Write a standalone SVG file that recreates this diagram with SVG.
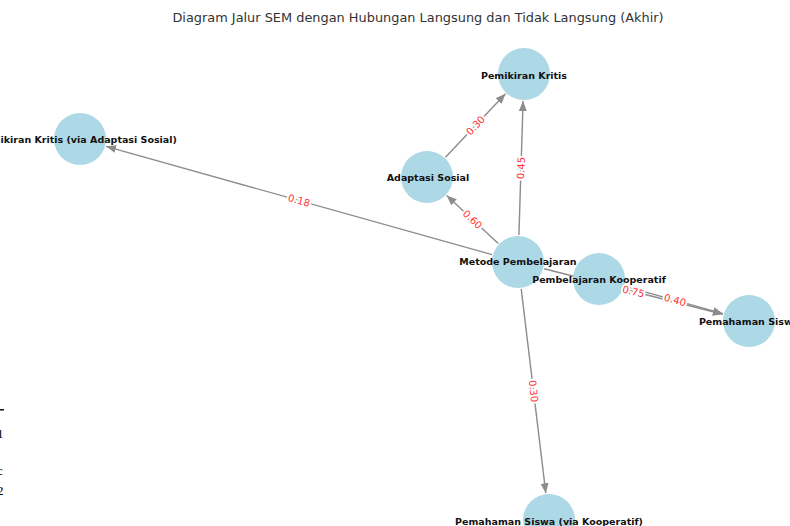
<svg xmlns="http://www.w3.org/2000/svg" width="790" height="526" viewBox="0 0 790 526">
<style>
.edge{stroke:#8c8c8c;stroke-width:1.4;fill:none;marker-end:url(#arr)}
.node{fill:#add8e6}
.nl{font-family:"DejaVu Sans",sans-serif;font-size:9.5px;font-weight:bold;fill:#111;text-anchor:middle;dominant-baseline:central}
.el{font-family:"DejaVu Sans",sans-serif;font-size:10px;fill:#ff3333;text-anchor:middle;dominant-baseline:central;stroke:#fff;stroke-width:4;paint-order:stroke;stroke-linejoin:round}
.title{font-family:"DejaVu Sans",sans-serif;font-size:12.9px;fill:#333;text-anchor:middle}
.art{font-family:"Liberation Serif",serif;font-size:13px;fill:#000}
</style>
<defs>
<marker id="arr" viewBox="0 0 10 8" refX="10" refY="4" markerWidth="10" markerHeight="8" markerUnits="userSpaceOnUse" orient="auto">
<path d="M0,0 L10,4 L0,8 z" fill="#8c8c8c"/>
</marker>
</defs>
<rect width="790" height="526" fill="#fff"/>
<text class="title" x="418" y="22">Diagram Jalur SEM dengan Hubungan Langsung dan Tidak Langsung (Akhir)</text>
<g id="edges">
<line class="edge" x1="518.9" y1="235" x2="523.1" y2="101"/>
<line class="edge" x1="445.5" y1="157.3" x2="505.5" y2="93.7"/>
<line class="edge" x1="498.3" y1="243.6" x2="446.7" y2="195.4"/>
<line class="edge" x1="492" y1="254.7" x2="106" y2="146.3"/>
<line class="edge" x1="544.2" y1="268.7" x2="722.8" y2="314.3"/>
<line class="edge" x1="625" y1="286.3" x2="723" y2="313.7"/>
<line class="edge" x1="521.2" y1="288.8" x2="545.8" y2="493.2"/>
</g>
<g id="n-pk"><circle class="node" cx="524" cy="74" r="26"/><text class="nl" x="524" y="75">Pemikiran Kritis</text></g>
<g id="n-as"><circle class="node" cx="427" cy="177" r="26"/><text class="nl" x="428" y="177">Adaptasi Sosial</text></g>
<g id="n-pkas"><circle class="node" cx="80" cy="139" r="26"/><text class="nl" x="77" y="139">Pemikiran Kritis (via Adaptasi Sosial)</text></g>
<g id="n-mp"><circle class="node" cx="518" cy="262" r="26"/><text class="nl" x="518" y="261">Metode Pembelajaran</text></g>
<g id="n-koop"><circle class="node" cx="599" cy="279" r="26"/><text class="nl" x="599" y="279">Pembelajaran Kooperatif</text></g>
<g id="n-ps"><circle class="node" cx="749" cy="321" r="26"/><text class="nl" x="749" y="321">Pemahaman Siswa</text></g>
<g id="n-psk"><circle class="node" cx="549" cy="520" r="26"/><text class="nl" x="549" y="521">Pemahaman Siswa (via Kooperatif)</text></g>
<g id="edge-labels">
<text class="el" transform="translate(521,168) rotate(-88)">0.45</text>
<text class="el" transform="translate(475.5,125.5) rotate(-46.7)">0.30</text>
<text class="el" transform="translate(472.5,219.5) rotate(43)">0.60</text>
<text class="el" transform="translate(299,200.5) rotate(15.7)">0.18</text>
<text class="el" transform="translate(633.5,291.5) rotate(14.3)">0.75</text>
<text class="el" transform="translate(675,300) rotate(15.6)">0.40</text>
<text class="el" transform="translate(533.5,391) rotate(83.1)">0.30</text>
</g>
<g id="artifacts">
<rect x="0" y="409" width="4" height="1.5" fill="#111"/>
<text class="art" x="-3" y="438">1</text>
<text class="art" x="-3" y="475" font-size="10">c</text>
<text class="art" x="-3" y="495">2</text>
</g>
</svg>
